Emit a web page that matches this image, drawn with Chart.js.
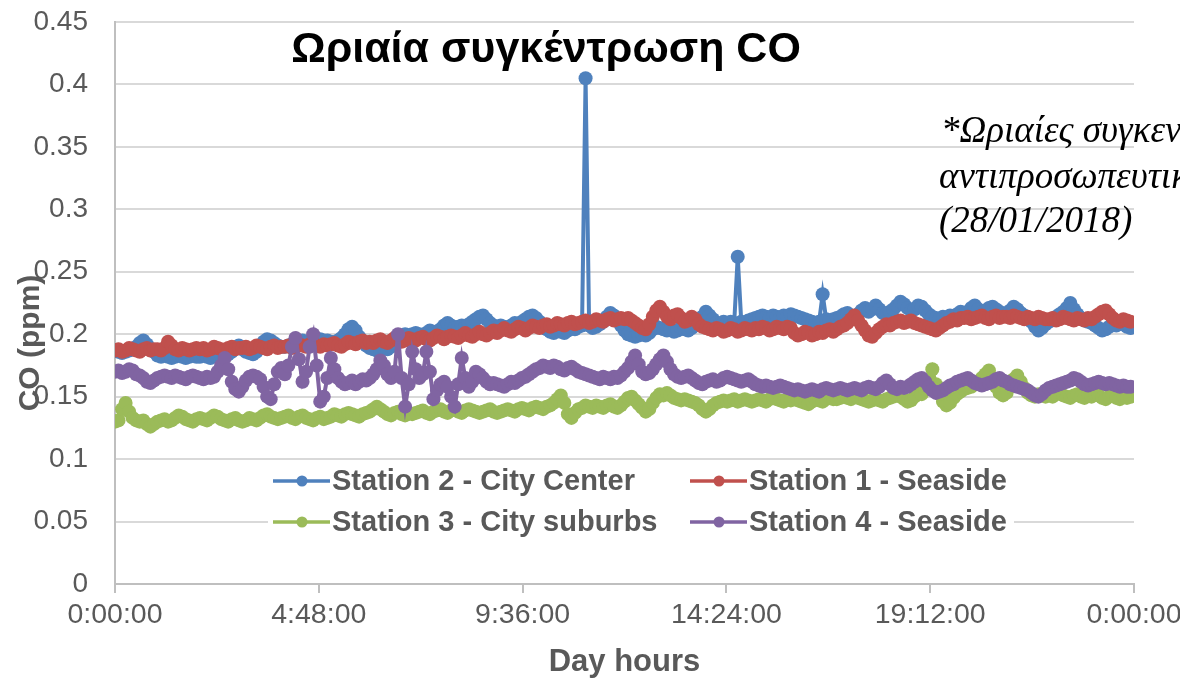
<!DOCTYPE html>
<html><head><meta charset="utf-8">
<script src="https://cdn.jsdelivr.net/npm/chart.js@4.4.1/dist/chart.umd.min.js"></script>
<style>html,body{margin:0;padding:0;background:#fff;overflow:hidden}</style>
</head><body>
<canvas id="c" width="1180" height="681"></canvas>
<script>
// sampling interval of readings (minutes)
const stepMinutes = 5;

const seriesNames = ['Station 2 - City Center', 'Station 1 - Seaside', 'Station 3 - City suburbs', 'Station 4 - Seaside'];

const station2 = [
.187,.186,.185,.186,.187,.188,.190,.193,.195,.192,.188,.186,
.183,.182,.183,.182,.181,.182,.183,.182,.181,.182,.183,.182,
.182,.183,.182,.181,.183,.184,.183,.182,.184,.186,.189,.191,
.188,.186,.185,.184,.186,.190,.194,.196,.195,.193,.191,.190,
.190,.191,.192,.193,.194,.195,.193,.192,.194,.195,.196,.195,
.195,.194,.193,.195,.197,.200,.204,.206,.203,.198,.194,.191,
.189,.188,.187,.188,.189,.188,.190,.193,.196,.199,.200,.199,
.200,.201,.200,.199,.201,.203,.202,.201,.204,.207,.209,.207,
.205,.206,.207,.206,.208,.210,.212,.214,.215,.212,.209,.207,
.206,.207,.206,.205,.207,.209,.208,.210,.212,.214,.215,.213,
.210,.207,.204,.202,.201,.203,.202,.201,.203,.205,.204,.206,
.207,.405,.207,.205,.206,.208,.210,.214,.217,.215,.211,.207,
.203,.200,.199,.198,.199,.200,.199,.201,.204,.206,.205,.204,
.203,.204,.202,.203,.205,.204,.203,.205,.207,.210,.214,.218,
.215,.212,.209,.208,.210,.209,.210,.209,.262,.210,.209,.211,
.212,.213,.214,.215,.214,.213,.215,.214,.213,.215,.214,.216,
.215,.214,.213,.212,.211,.210,.209,.210,.232,.212,.211,.212,
.213,.214,.216,.217,.215,.214,.216,.219,.221,.218,.220,.223,
.220,.217,.216,.218,.220,.223,.226,.224,.221,.219,.220,.223,
.222,.219,.216,.214,.213,.212,.214,.213,.215,.214,.216,.218,
.216,.218,.221,.223,.220,.218,.219,.221,.222,.220,.218,.216,
.217,.219,.222,.220,.217,.215,.213,.210,.206,.203,.205,.208,
.210,.212,.214,.216,.218,.221,.225,.220,.216,.213,.211,.210,
.209,.207,.205,.203,.204,.206,.208,.207,.209,.208,.206,.205
];

const station1 = [
.187,.188,.186,.187,.189,.188,.187,.186,.188,.189,.187,.188,
.188,.187,.189,.194,.191,.188,.187,.189,.188,.187,.188,.189,
.188,.189,.187,.188,.190,.189,.188,.187,.189,.190,.188,.189,
.189,.190,.188,.189,.191,.190,.189,.188,.190,.191,.189,.190,
.190,.191,.189,.190,.192,.191,.190,.192,.193,.191,.190,.192,
.191,.192,.193,.191,.190,.192,.194,.193,.192,.194,.195,.193,
.194,.193,.195,.196,.194,.193,.195,.197,.196,.194,.195,.197,
.196,.195,.197,.198,.196,.195,.197,.199,.198,.196,.198,.199,
.198,.197,.199,.201,.199,.198,.200,.202,.200,.199,.201,.203,
.201,.203,.205,.203,.202,.204,.206,.205,.203,.205,.207,.206,
.205,.207,.208,.206,.207,.209,.208,.207,.209,.210,.208,.209,
.210,.211,.209,.210,.212,.211,.210,.212,.213,.211,.212,.213,
.212,.213,.211,.209,.207,.205,.204,.208,.214,.219,.222,.218,
.214,.212,.215,.216,.213,.210,.211,.214,.212,.208,.206,.205,
.204,.203,.205,.204,.202,.203,.205,.204,.202,.203,.205,.204,
.203,.205,.204,.206,.205,.203,.204,.206,.205,.204,.206,.205,
.201,.199,.200,.202,.201,.199,.200,.202,.201,.203,.204,.202,
.204,.206,.207,.209,.212,.215,.211,.207,.203,.199,.198,.201,
.204,.206,.208,.207,.209,.210,.211,.209,.210,.211,.209,.208,
.207,.206,.205,.204,.203,.205,.207,.209,.210,.212,.211,.213,
.213,.214,.212,.213,.214,.215,.213,.212,.214,.215,.213,.214,
.214,.213,.215,.214,.213,.212,.214,.213,.212,.214,.213,.212,
.212,.213,.211,.212,.214,.213,.212,.211,.213,.212,.211,.213,
.212,.214,.216,.218,.219,.216,.213,.211,.210,.212,.211,.210
];

const station3 = [
.130,.131,.140,.145,.138,.133,.131,.130,.131,.128,.126,.128,
.130,.131,.132,.130,.131,.133,.135,.134,.132,.131,.130,.132,
.133,.132,.131,.133,.135,.134,.132,.131,.130,.132,.133,.131,
.130,.131,.133,.132,.131,.133,.135,.136,.134,.133,.132,.133,
.134,.135,.133,.132,.134,.135,.133,.132,.131,.133,.134,.132,
.133,.134,.136,.135,.134,.136,.137,.136,.135,.134,.136,.137,
.138,.140,.142,.140,.138,.136,.135,.137,.138,.136,.135,.137,
.136,.137,.138,.139,.137,.136,.138,.139,.140,.138,.137,.139,
.140,.138,.137,.139,.140,.139,.138,.137,.138,.139,.140,.138,
.137,.138,.139,.140,.139,.138,.140,.141,.140,.139,.141,.142,
.141,.140,.142,.143,.145,.148,.151,.145,.136,.133,.137,.140,
.141,.143,.142,.141,.143,.142,.141,.143,.144,.142,.141,.143,
.146,.149,.150,.147,.144,.141,.138,.140,.145,.149,.152,.151,
.153,.151,.149,.148,.147,.148,.147,.146,.145,.143,.140,.138,
.140,.143,.145,.146,.147,.146,.147,.148,.146,.147,.148,.147,
.146,.147,.148,.147,.146,.148,.149,.148,.147,.146,.148,.147,
.148,.147,.146,.145,.144,.146,.148,.147,.146,.148,.149,.148,
.148,.149,.150,.149,.148,.150,.149,.148,.147,.146,.147,.148,
.147,.146,.148,.149,.150,.151,.150,.148,.146,.147,.150,.155,
.152,.156,.163,.172,.160,.152,.146,.143,.145,.149,.152,.154,
.156,.157,.158,.160,.162,.165,.168,.171,.165,.158,.153,.151,
.153,.158,.164,.167,.162,.157,.153,.151,.150,.152,.151,.150,
.151,.150,.152,.153,.151,.150,.149,.151,.152,.150,.149,.151,
.150,.152,.151,.149,.148,.150,.151,.149,.148,.150,.149,.150
];

const station4 = [
.170,.171,.169,.170,.172,.171,.168,.167,.165,.162,.161,.163,
.165,.166,.167,.166,.165,.167,.166,.165,.164,.166,.167,.166,
.165,.164,.166,.165,.166,.170,.175,.181,.172,.162,.156,.154,
.158,.163,.166,.167,.166,.164,.158,.150,.148,.160,.170,.173,
.168,.175,.190,.197,.180,.162,.170,.190,.200,.175,.146,.150,
.165,.181,.172,.165,.162,.160,.161,.163,.160,.162,.164,.163,
.165,.168,.172,.179,.175,.168,.165,.170,.200,.165,.142,.160,
.186,.172,.165,.168,.186,.170,.148,.155,.160,.162,.158,.150,
.142,.160,.181,.165,.158,.162,.170,.168,.165,.162,.160,.161,
.160,.159,.158,.160,.162,.161,.163,.165,.166,.168,.170,.172,
.173,.175,.174,.173,.175,.174,.172,.171,.173,.174,.172,.170,
.169,.168,.167,.166,.165,.164,.166,.165,.164,.166,.165,.167,
.170,.173,.178,.183,.176,.170,.168,.169,.172,.176,.180,.183,
.178,.172,.168,.166,.165,.166,.167,.165,.163,.161,.160,.162,
.163,.164,.162,.163,.165,.166,.165,.164,.163,.162,.163,.164,
.162,.160,.159,.158,.159,.158,.157,.158,.159,.158,.157,.156,
.155,.156,.155,.154,.155,.156,.155,.154,.156,.157,.156,.155,
.156,.157,.156,.155,.156,.157,.156,.155,.157,.158,.157,.156,
.158,.161,.163,.160,.157,.156,.158,.157,.158,.160,.162,.164,
.165,.162,.158,.155,.153,.154,.155,.157,.159,.160,.162,.163,
.164,.165,.163,.161,.160,.159,.160,.161,.162,.164,.165,.163,
.162,.160,.159,.158,.157,.156,.155,.153,.151,.150,.152,.155,
.157,.158,.159,.160,.161,.162,.163,.165,.164,.162,.160,.159,
.160,.161,.162,.161,.160,.161,.160,.159,.158,.159,.158,.158
];

const xTickLabels = ['0:00:00', '4:48:00', '9:36:00', '14:24:00', '19:12:00', '0:00:00'];
const yTickLabels = ['0', '0.05', '0.1', '0.15', '0.2', '0.25', '0.3', '0.35', '0.4', '0.45'];

const chartTitle = 'Ωριαία συγκέντρωση CO';
const xAxisTitle = 'Day hours';
const yAxisTitle = 'CO (ppm)';
const noteLines = ['*Ωριαίες συγκεντρώσεις', 'αντιπροσωπευτικής ημέρας', '(28/01/2018)'];

const colors = ['#4F81BD', '#C0504D', '#9BBB59', '#8064A2'];
const allSeries = [station2, station1, station3, station4];

function toPoints(arr) { return arr.map((v, i) => ({ x: i * stepMinutes, y: v })); }

const datasets = allSeries.map((arr, k) => ({
  label: seriesNames[k],
  data: toPoints(arr),
  borderColor: colors[k],
  backgroundColor: colors[k],
  pointBackgroundColor: colors[k],
  pointBorderColor: colors[k],
  pointBorderWidth: 0,
  pointRadius: 7,
  pointHoverRadius: 7,
  borderWidth: 4,
  tension: 0,
  order: 4 - k
}));

const GREY = '#595959';

const decor = {
  id: 'decor',
  afterDraw(chart) {
    const ctx = chart.ctx;
    ctx.save();
    // chart title
    ctx.fillStyle = '#000';
    ctx.font = 'bold 43px "Liberation Sans", Arial, sans-serif';
    ctx.textAlign = 'center';
    ctx.textBaseline = 'alphabetic';
    ctx.fillText(chartTitle, 546, 62);
    // note
    ctx.font = 'italic 37px "Liberation Serif", "Times New Roman", serif';
    ctx.textAlign = 'left';
    ctx.fillText(noteLines[0], 941, 142);
    ctx.fillText(noteLines[1], 939, 188);
    ctx.fillText(noteLines[2], 939, 232);
    // y axis title
    ctx.save();
    ctx.translate(31, 343);
    ctx.rotate(-Math.PI / 2);
    ctx.fillStyle = GREY;
    ctx.font = 'bold 30px "Liberation Sans", Arial, sans-serif';
    ctx.textAlign = 'center';
    ctx.textBaseline = 'middle';
    ctx.fillText(yAxisTitle, 0, 0);
    ctx.restore();
    // legend
    ctx.fillStyle = '#fff';
    ctx.fillRect(268, 463, 746, 80);
    const cols = [273, 690];
    const rows = [481, 522];
    ctx.font = 'bold 29px "Liberation Sans", Arial, sans-serif';
    ctx.textBaseline = 'middle';
    ctx.textAlign = 'left';
    chart.data.datasets.forEach((ds, k) => {
      const x = cols[k % 2], y = rows[Math.floor(k / 2)];
      ctx.strokeStyle = ds.borderColor;
      ctx.lineWidth = 3.5;
      ctx.beginPath(); ctx.moveTo(x, y); ctx.lineTo(x + 57, y); ctx.stroke();
      ctx.fillStyle = ds.borderColor;
      ctx.beginPath(); ctx.arc(x + 29, y, 5.5, 0, Math.PI * 2); ctx.fill();
      ctx.fillStyle = GREY;
      ctx.fillText(ds.label, x + 59, y + 1);
    });
    ctx.restore();
  }
};

new Chart(document.getElementById('c'), {
  type: 'line',
  data: { datasets },
  plugins: [decor],
  options: {
    responsive: false,
    animation: false,
    devicePixelRatio: 1,
    events: [],
    layout: { padding: { top: 22, right: 46, left: 0, bottom: 0 } },
    plugins: { legend: { display: false }, tooltip: { enabled: false }, title: { display: false } },
    scales: {
      x: {
        type: 'linear', min: 0, max: 1440,
        afterFit(s) { s.height = 97; s.paddingLeft = 0; s.paddingRight = 0; },
        ticks: {
          stepSize: 288, maxRotation: 0, autoSkip: false, padding: 5,
          color: GREY, font: { family: '"Liberation Sans", Arial, sans-serif', size: 28.5 },
          callback: (v, i) => xTickLabels[i]
        },
        grid: { drawOnChartArea: false, drawTicks: true, tickLength: 9, color: '#bfbfbf', lineWidth: 2 },
        border: { display: true, color: '#bfbfbf', width: 2 },
        title: { display: true, text: xAxisTitle, color: GREY, padding: { top: 0, bottom: 0 },
          font: { family: '"Liberation Sans", Arial, sans-serif', size: 31, weight: 'bold' } }
      },
      y: {
        min: 0, max: 0.45,
        afterFit(s) { s.width = 115; s.paddingTop = 0; s.paddingBottom = 0; },
        ticks: {
          stepSize: 0.05, padding: 27,
          color: GREY, font: { family: '"Liberation Sans", Arial, sans-serif', size: 28 },
          callback: (v, i) => yTickLabels[i]
        },
        grid: { color: '#d9d9d9', lineWidth: 2, drawTicks: false },
        border: { display: true, color: '#bfbfbf', width: 2 }
      }
    }
  }
});
</script>
</body></html>
